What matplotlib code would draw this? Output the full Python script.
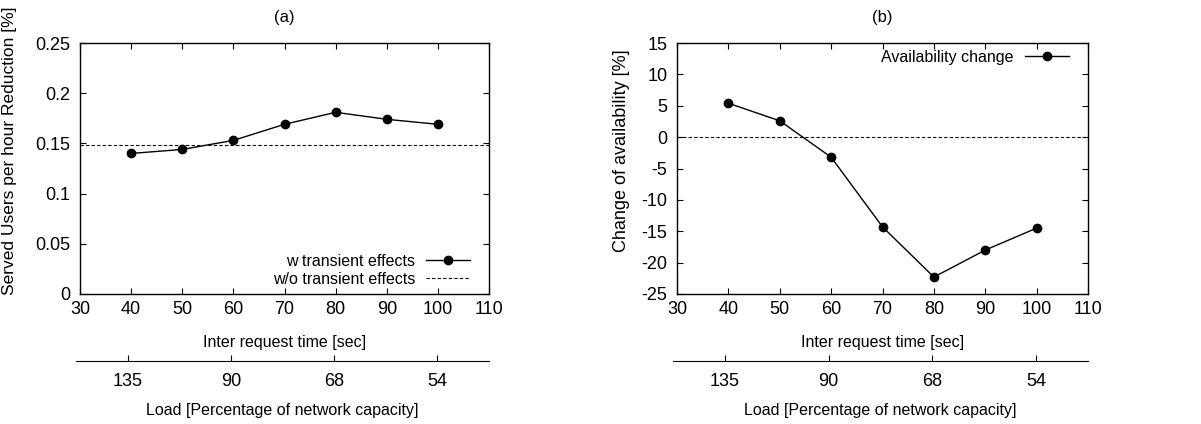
import matplotlib
matplotlib.use('Agg')
import matplotlib.pyplot as plt

plt.rcParams['font.family'] = ['Liberation Sans', 'DejaVu Sans']
plt.rcParams['axes.unicode_minus'] = False
TICK_FS = 13
LABEL_FS = 11.5

# data
inter_request = [40, 50, 60, 70, 80, 90, 100]
users_reduction = [0.140, 0.144, 0.153, 0.169, 0.181, 0.174, 0.169]
baseline_reduction = 0.148
availability_change = [5.4, 2.6, -3.2, -14.3, -22.3, -18.0, -14.5]
load_labels = ['135', '90', '68', '54']

W, H = 1201, 424
fig = plt.figure(figsize=(W / 100, H / 100), dpi=100)


def px_axes(left, top, right, bottom):
    return fig.add_axes([left / W, 1 - bottom / H, (right - left) / W, (bottom - top) / H])


def style_main(ax):
    for s in ax.spines.values():
        s.set_linewidth(1.0)
    ax.tick_params(direction='in', length=4, width=0.8, top=True, right=True,
                   labelsize=TICK_FS)
    ax.tick_params(axis='x', pad=5)
    ax.tick_params(axis='y', pad=7)
    ax.set_xlim(30, 110)
    ax.set_xticks(range(30, 111, 10))
    ax.set_xlabel('Inter request time [sec]', fontsize=LABEL_FS, labelpad=12)


def load_axis(left, right):
    ax2 = px_axes(left, 355, right, 361)
    for k in ['top', 'left', 'right']:
        ax2.spines[k].set_visible(False)
    ax2.patch.set_visible(False)
    ax2.set_yticks([])
    ax2.set_xlim(0, len(load_labels))
    ax2.set_xticks([i + 0.5 for i in range(len(load_labels))])
    ax2.set_xticklabels(load_labels)
    ax2.tick_params(axis='x', direction='in', length=4, width=0.8, labelsize=TICK_FS, pad=9)
    ax2.set_xlabel('Load [Percentage of network capacity]', fontsize=LABEL_FS, labelpad=9)


# (a)
ax = px_axes(80, 43, 489, 294)
style_main(ax)
ax.plot(inter_request, users_reduction, color='black', lw=1, marker='o', ms=6,
        label='w transient effects')
ax.axhline(baseline_reduction, color='black', lw=0.8, ls=(0, (3, 2)),
           label='w/o transient effects')
ax.set_ylim(0, 0.25)
ax.set_yticks([0, 0.05, 0.1, 0.15, 0.2, 0.25])
ax.set_yticklabels(['0', '0.05', '0.1', '0.15', '0.2', '0.25'])
ax.set_ylabel('Served Users per hour Reduction [%]', fontsize=12.5)
ax.yaxis.set_label_coords(-0.154, 0.57)
ax.set_title('(a)', fontsize=12, pad=15)
ax.legend(loc='lower right', bbox_to_anchor=(0.954, 0.028), frameon=False,
          markerfirst=False, handlelength=2.75, fontsize=LABEL_FS, labelspacing=0.2,
          borderaxespad=0, borderpad=0, handletextpad=0.7)
load_axis(76, 489)

# (b)
bx = px_axes(677, 43, 1088, 294)
style_main(bx)
bx.plot(inter_request, availability_change, color='black', lw=1, marker='o', ms=6,
        label='Availability change')
bx.axhline(0, color='black', lw=0.8, ls=(0, (3, 2)))
bx.set_ylim(-25, 15)
bx.set_yticks(range(-25, 16, 5))
bx.set_ylabel('Change of availability [%]', fontsize=13)
bx.yaxis.set_label_coords(-0.114, 0.57)
bx.set_title('(b)', fontsize=12, pad=15)
bx.legend(loc='upper right', bbox_to_anchor=(0.954, 0.972), frameon=False,
          markerfirst=False, handlelength=2.75, fontsize=LABEL_FS,
          borderaxespad=0, borderpad=0, handletextpad=0.7)
load_axis(673, 1088)

fig.savefig('out.png', dpi=100)
